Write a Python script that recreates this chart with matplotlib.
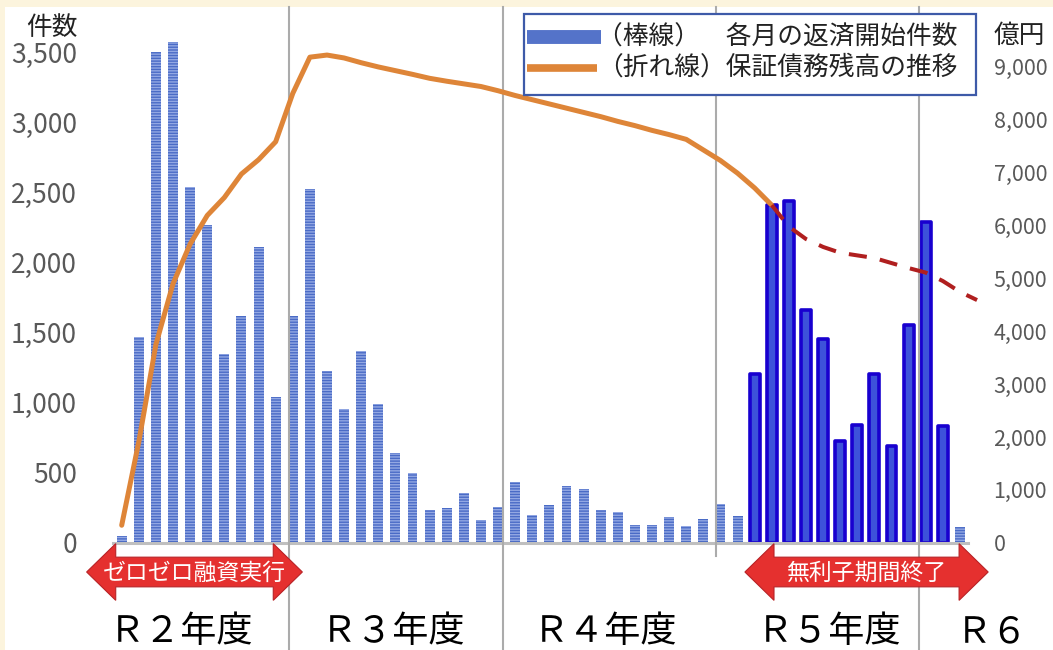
import numpy as np
import matplotlib
matplotlib.use("Agg")
import matplotlib.pyplot as plt
from matplotlib.lines import Line2D
from matplotlib.patches import Polygon, Rectangle
from matplotlib.ticker import FuncFormatter

plt.rcParams['font.family'] = ['Noto Sans CJK JP', 'DejaVu Sans']

# 各月の返済開始件数（R2.5 ～ R6.6）
counts = [48, 1468, 3502, 3579, 2543, 2266, 1349, 1618, 2111, 1041,
          1618, 2528, 1227, 952, 1369, 990, 643, 498, 233, 248,
          352, 160, 255, 433, 198, 269, 405, 383, 233, 219,
          126, 124, 186, 119, 169, 276, 190, 1205, 2412, 2443,
          1662, 1455, 729, 843, 1205, 688, 1557, 2290, 831, 110]
# 無利子期間終了に伴う返済開始の月（強調表示）
peak_months = range(37, 49)

# 保証債務残高（億円） 実績
balance_actual = [330, 1910, 3750, 4900, 5650, 6190, 6530, 6975, 7245, 7585,
                  8500, 9185, 9225, 9170, 9080, 9000, 8930, 8860, 8785, 8730,
                  8680, 8630, 8550, 8460, 8380, 8300, 8220, 8140, 8060, 7970,
                  7890, 7800, 7720, 7630, 7430, 7230, 6990, 6710, 6385]
# 保証債務残高（億円） 見込み
balance_forecast = [6385, 5980, 5745, 5595, 5485, 5435, 5385, 5290, 5195,
                    5110, 4950, 4745, 4590]

legend_labels = ['（棒線）　各月の返済開始件数', '（折れ線）保証債務残高の推移']
fy_labels = ['Ｒ２年度', 'Ｒ３年度', 'Ｒ４年度', 'Ｒ５年度', 'Ｒ６']

W, H = 1053, 650


def fx(px):
    return px / W


def fy(py):
    return 1 - py / H


fig = plt.figure(figsize=(W / 100, H / 100), dpi=100, facecolor='#FCF4DD')
fig.patches.append(Rectangle((fx(5), 0), 1, fy(7), transform=fig.transFigure,
                             facecolor='white', edgecolor='none', zorder=-1))

ax = fig.add_axes([fx(113.15), fy(542.7), (968.5 - 113.15) / W, (542.7 - 7) / H])
ax.patch.set_visible(False)
ax2 = ax.twinx()

x = np.arange(len(counts))
is_peak = np.isin(x, list(peak_months))
counts = np.array(counts)

# 棒グラフ
ax.bar(x[~is_peak], counts[~is_peak], width=0.58, color='#4A6BC6',
       edgecolor='#93A8E3', linewidth=0, hatch='------', zorder=2)
ax.bar(x[is_peak], counts[is_peak], width=0.58, color='#3D52DA',
       edgecolor='#1800CF', linewidth=2.6, joinstyle='round', zorder=2)

ax.set_xlim(-0.5, 49.5)
ax.set_ylim(0, 3826)
ax.set_yticks(range(0, 3501, 500))
ax.set_xticks([])
ax2.set_ylim(0, 10134)
ax2.set_yticks(range(0, 9001, 1000))

fmt = FuncFormatter(lambda v, p: f'{int(v):,}')
for a in (ax, ax2):
    a.yaxis.set_major_formatter(fmt)
    for s in a.spines.values():
        s.set_visible(False)
ax.tick_params(axis='y', length=0, pad=26, labelsize=19, labelcolor='#595959')
ax2.tick_params(axis='y', length=0, pad=18, labelsize=15.5, labelcolor='#595959')
ax.spines['bottom'].set_visible(True)
ax.spines['bottom'].set_color('#BFBFBF')
ax.spines['bottom'].set_linewidth(2.2)
ax.spines['bottom'].set_zorder(3)

# 年度の区切り線
for xs, y_end in [(9.78, -0.2), (22.27, -0.2), (34.72, -0.024), (46.59, -0.2)]:
    ax.plot([xs, xs], [1.0, y_end], transform=ax.get_xaxis_transform(),
            color='#ABABAB', lw=1.5, clip_on=False, zorder=4)

# 折れ線（保証債務残高）
xa = np.arange(len(balance_actual))
xf = np.arange(len(balance_actual) - 1, len(balance_actual) - 1 + len(balance_forecast))
ax2.plot(xa, balance_actual, color='#DE8538', lw=3.6,
         solid_capstyle='round', solid_joinstyle='round', zorder=3)
ax2.plot(xf, balance_forecast, color='#B01F1F', lw=2.9, dashes=(4.5, 3.3),
         clip_on=False, zorder=3)

# 凡例
fig.patches.append(Rectangle((fx(524), fy(94.5)), (976 - 524) / W, 80.5 / H,
                             transform=fig.transFigure, facecolor='white',
                             edgecolor='#3E5AA8', lw=1.6, zorder=10))
for (py, color, lw, x_end), label in zip([(37.4, '#5473C9', 10, 601), (68, '#DE8538', 5.5, 597)],
                                         legend_labels):
    fig.add_artist(Line2D([fx(527), fx(x_end)], [fy(py), fy(py)], transform=fig.transFigure,
                          color=color, lw=lw, solid_capstyle='butt', zorder=11))
    fig.text(fx(597), fy(py), label, ha='left', va='center', fontsize=18.5,
             color='#222222', zorder=12)


def double_arrow(x0, x1, text, tx):
    head, ym, bh, hh = 1.7, -0.0547, 0.0554, 0.1058
    verts = [(x0, ym), (x0 + head, ym + hh / 2), (x0 + head, ym + bh / 2),
             (x1 - head, ym + bh / 2), (x1 - head, ym + hh / 2), (x1, ym),
             (x1 - head, ym - hh / 2), (x1 - head, ym - bh / 2),
             (x0 + head, ym - bh / 2), (x0 + head, ym - hh / 2)]
    ax.add_patch(Polygon(verts, closed=True, transform=ax.get_xaxis_transform(),
                         facecolor='#E5302F', edgecolor='#B82226', lw=0.8,
                         clip_on=False, zorder=5))
    ax.text(tx, ym - 0.002, text, transform=ax.get_xaxis_transform(),
            ha='center', va='center', color='white', fontsize=16.5, zorder=6)


double_arrow(-2.05, 10.56, 'ゼロゼロ融資実行', 4.26)
double_arrow(36.43, 50.65, '無利子期間終了', 43.5)

# 年度ラベル
for label, px in zip(fy_labels, [181, 393, 605, 829, 992]):
    fig.text(fx(px), fy(632), label, ha='center', va='center',
             fontsize=26, color='black')

fig.text(fx(52), fy(28), '件数', ha='center', va='center', fontsize=18.5, color='#222222')
fig.text(fx(1019.5), fy(36), '億円', ha='center', va='center', fontsize=18.5, color='#222222')

fig.savefig('out.png', dpi=100)
